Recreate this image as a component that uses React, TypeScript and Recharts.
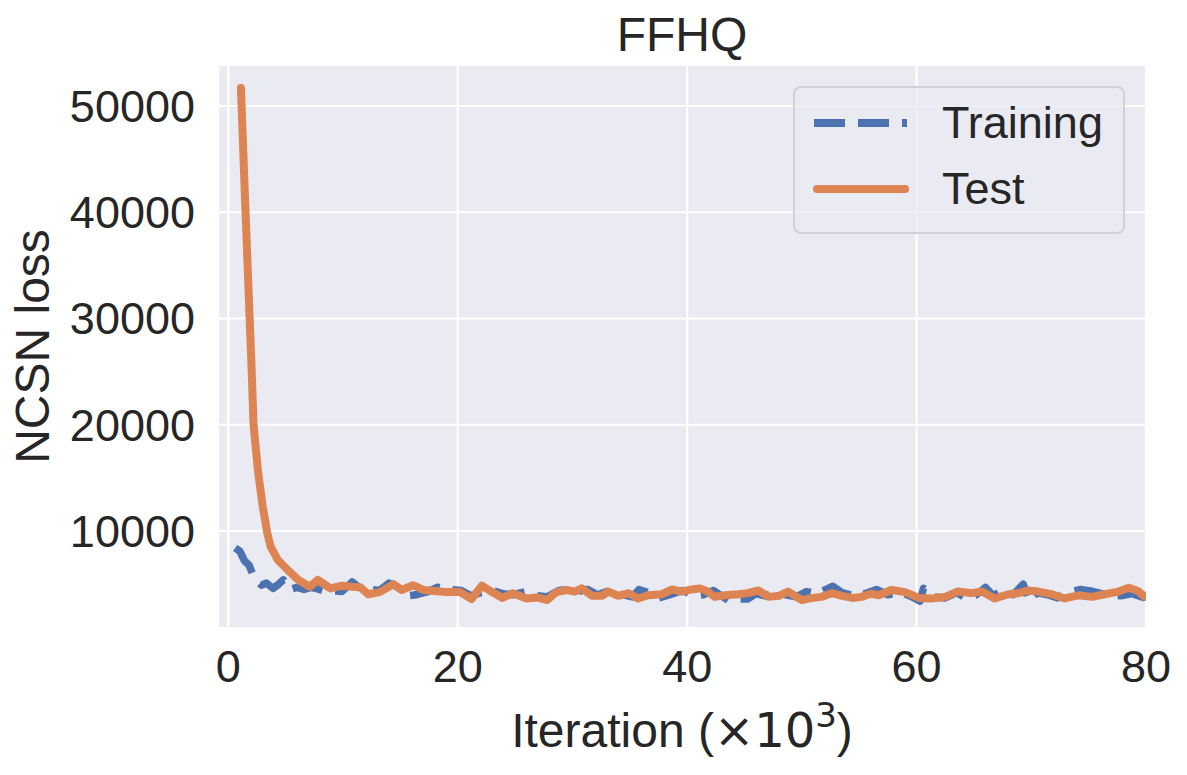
import React from "react"
import {
    LineChart,
    Line,
    XAxis,
    YAxis,
    CartesianGrid
} from "recharts"

// iterations (x 10^3) and NCSN loss
const trainX = [
    0.6, 1.0, 1.4, 1.8, 2.1, 2.5, 2.9, 3.3, 3.9, 4.4, 4.8, 5.4, 6.0, 6.6, 7.2, 7.8,
    8.5, 9.2, 9.9, 10.8, 11.5, 12.3, 13.2, 14.0, 14.8, 15.6, 16.4, 17.4, 18.2, 19.2,
    20.3, 21.2, 22.0, 23.0, 23.9, 24.8, 26.0, 27.0, 27.8, 28.8, 29.6, 30.5, 31.3,
    32.2, 33.0, 34.0, 35.2, 35.8, 36.6, 37.5, 38.5, 39.6, 40.7, 41.4, 42.3, 43.1,
    43.7, 44.5, 45.3, 46.0, 46.8, 47.9, 48.6, 49.5, 50.4, 51.3, 52.7, 53.5, 54.6,
    55.5, 56.5, 57.5, 58.7, 59.6, 60.3, 60.6, 61.5, 62.5, 63.5, 64.4, 65.2, 66.0,
    66.7, 67.6, 68.4, 69.3, 69.8, 70.5, 71.4, 72.3, 73.2, 74.3, 75.4, 76.5, 77.8,
    78.8, 79.9
]
const trainLoss = [
    8400, 8100, 7200, 6800, 6000, 5300, 4900, 5100, 4600, 5000, 5400, 4500, 4700, 4500, 4700, 4550,
    4300, 4350, 4300, 5200, 4600, 4500, 4400, 5100, 4700, 3900, 4000, 4300, 4700, 4500,
    4400, 3900, 4200, 4400, 4100, 4000, 4300, 3900, 3800, 4400, 4500, 4300, 4500,
    4000, 4300, 4100, 3800, 4500, 4200, 3700, 4000, 4400, 3900, 4000, 4400, 3800,
    3400, 3600, 3600, 4100, 3900, 4300, 4000, 3800, 4300, 4100, 4800, 4200, 3900,
    4100, 4500, 4000, 4200, 3800, 3400, 4600, 3800, 3700, 4200, 3600, 4000, 4700,
    3900, 4500, 4000, 5000, 3400, 4200, 4000, 3700, 4200, 4500, 4300, 4000, 3900,
    4100, 3700
]

const testX = [
    1.1, 1.5, 2.0, 2.2, 2.6, 3.0, 3.4, 3.7, 4.3, 5.2, 6.1, 7.1, 7.8, 8.9, 9.9, 10.8,
    11.5, 12.2, 13.2, 14.4, 15.1, 16.1, 17.0, 18.0, 19.0, 20.2, 21.2, 22.1, 23.0,
    23.9, 24.8, 26.0, 26.9, 27.8, 28.6, 29.5, 30.2, 30.8, 31.7, 32.6, 33.1, 34.0,
    34.9, 35.7, 36.6, 37.8, 38.7, 39.5, 40.4, 41.1, 41.8, 42.4, 43.3, 44.5, 45.3,
    46.2, 47.1, 48.0, 48.8, 50.0, 50.9, 51.7, 52.6, 53.5, 54.4, 55.2, 56.0, 56.7,
    57.8, 59.0, 60.2, 61.3, 62.5, 63.6, 64.8, 65.7, 66.8, 68.0, 68.9, 69.7, 70.6,
    71.8, 72.9, 74.1, 75.3, 76.4, 77.6, 78.5, 79.3, 79.9
]
const testLoss = [
    51700, 40000, 26100, 20000, 15500, 12300, 9800, 8500, 7300, 6300, 5400, 4750, 5400, 4600, 4850, 4750,
    4700, 4050, 4250, 5000, 4450, 4900, 4450, 4350, 4250, 4250, 3600, 4850, 4250,
    3700, 4150, 3650, 3750, 3500, 4250, 4450, 4300, 4600, 3900, 3900, 4300, 3900,
    4150, 3650, 3950, 4050, 4500, 4300, 4500, 4600, 4300, 3800, 3950, 4050, 4150,
    4400, 3800, 3900, 4300, 3500, 3700, 3800, 4150, 3900, 3700, 3800, 4100, 3950,
    4450, 4250, 3700, 3650, 3800, 4300, 4150, 4300, 3650, 4050, 4150, 4400, 4300,
    4050, 3650, 3950, 3800, 4050, 4300, 4650, 4350, 3800
]

const xTicks = [0, 20, 40, 60, 80]
const yTicks = [10000, 20000, 30000, 40000, 50000]

const trainData = trainX.map((x, i) => ({ x, loss: trainLoss[i] }))
const testData = testX.map((x, i) => ({ x, loss: testLoss[i] }))

const FONT = "'Liberation Sans', Arial, Helvetica, sans-serif"
const MATH = "'DejaVu Sans', sans-serif"
const TEXT = "#262626"
const BLUE = "#4C72B0"
const ORANGE = "#DD8452"

// x label with a proper superscript, like matplotlib mathtext
const IterationLabel = (props: any) => {
    const vb = props.viewBox || {}
    const cx = vb.x + vb.width / 2
    const baseline = vb.y + 119
    return (
        <text x={cx} y={baseline} textAnchor="middle" fill={TEXT} fontSize={48} fontFamily={FONT}>
            Iteration (
            <tspan fontFamily={MATH}>×10</tspan>
            <tspan fontFamily={MATH} fontSize={34} dy={-20}>3</tspan>
            <tspan dy={20}>)</tspan>
        </text>
    )
}

const LegendBox = () => (
    <div
        style={{
            position: "absolute",
            left: 793,
            top: 86,
            width: 328,
            height: 144,
            background: "rgba(234,234,242,0.8)",
            border: "2px solid #d0d0d6",
            borderRadius: 8,
            fontFamily: FONT,
            fontSize: 45,
            color: TEXT
        }}
    >
        <svg width={120} height={144} style={{ position: "absolute", left: 0, top: 0 }}>
            <line x1={19} x2={112} y1={35} y2={35} stroke={BLUE} strokeWidth={8} strokeDasharray="31 13" />
            <line x1={22} x2={110} y1={101} y2={101} stroke={ORANGE} strokeWidth={8} strokeLinecap="round" />
        </svg>
        <div style={{ position: "absolute", left: 147, top: 8, lineHeight: "54px" }}>Training</div>
        <div style={{ position: "absolute", left: 147, top: 74, lineHeight: "54px" }}>Test</div>
    </div>
)

export default function App() {
    return (
        <div style={{ position: "absolute", left: 0, top: 0, width: 1187, height: 775, background: "#fff" }}>
            <div
                style={{
                    position: "absolute",
                    left: 0,
                    width: 1364,
                    top: 11,
                    textAlign: "center",
                    fontFamily: FONT,
                    fontSize: 48,
                    lineHeight: "48px",
                    color: TEXT
                }}
            >
                FFHQ
            </div>
            <LineChart
                width={1187}
                height={775}
                margin={{ top: 65, right: 41, bottom: 0, left: 0 }}
            >
                <CartesianGrid fill="#EAEAF2" fillOpacity={1} stroke="#ffffff" strokeWidth={2.2} />
                <XAxis
                    type="number"
                    dataKey="x"
                    domain={[-0.9, 80]}
                    ticks={xTicks}
                    allowDataOverflow
                    height={147}
                    axisLine={false}
                    tickLine={false}
                    tickSize={0}
                    tickMargin={22}
                    tick={{ fill: TEXT, fontSize: 45, fontFamily: FONT }}
                    label={<IterationLabel />}
                />
                <YAxis
                    type="number"
                    dataKey="loss"
                    domain={[870, 53860]}
                    ticks={yTicks}
                    allowDataOverflow
                    width={218}
                    axisLine={false}
                    tickLine={false}
                    tickSize={0}
                    tickMargin={23}
                    tick={{ fill: TEXT, fontSize: 45, fontFamily: FONT }}
                    label={{
                        value: "NCSN loss",
                        angle: -90,
                        position: "center",
                        dx: -77,
                        fill: TEXT,
                        fontSize: 48,
                        fontFamily: FONT
                    }}
                />
                <Line
                    data={trainData}
                    dataKey="loss"
                    name="Training"
                    type="linear"
                    stroke={BLUE}
                    strokeWidth={7.5}
                    strokeDasharray="31 13"
                    strokeLinejoin="round"
                    dot={false}
                    isAnimationActive={false}
                />
                <Line
                    data={testData}
                    dataKey="loss"
                    name="Test"
                    type="linear"
                    stroke={ORANGE}
                    strokeWidth={8}
                    strokeLinejoin="round"
                    strokeLinecap="round"
                    dot={false}
                    isAnimationActive={false}
                />
            </LineChart>
            <LegendBox />
        </div>
    )
}
